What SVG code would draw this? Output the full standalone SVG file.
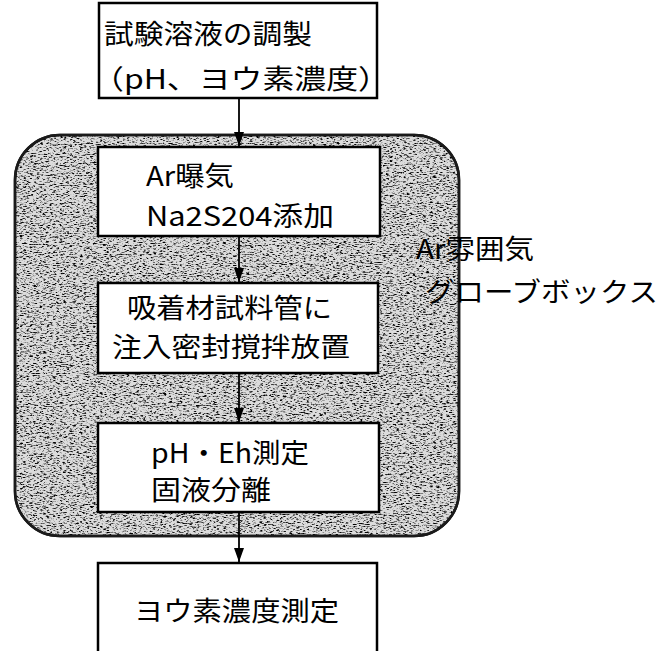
<svg xmlns="http://www.w3.org/2000/svg" width="660" height="651" viewBox="0 0 660 651">
  <style>
    .box { fill: #ffffff; stroke: #000000; stroke-width: 2.5; }
    .txt { font-family: "Noto Sans CJK JP", "Noto Sans", sans-serif; font-size: 27px; fill: #000000; }
    .conn { stroke: #000000; stroke-width: 1.8; fill: none; marker-end: url(#arrow); }
    .region { fill: #dcdcdc; stroke: #1a1a1a; stroke-width: 2.5; }
  </style>
  <defs>
    <marker id="arrow" viewBox="0 0 14 10" refX="14" refY="5" markerWidth="14" markerHeight="10" markerUnits="userSpaceOnUse" orient="auto">
      <path d="M0,0 L14,5 L0,10 z" fill="#000000"/>
    </marker>
    <filter id="grain" x="0" y="0" width="100%" height="100%" filterUnits="objectBoundingBox">
      <feTurbulence type="fractalNoise" baseFrequency="0.3 0.9" numOctaves="3" seed="7" result="t"/>
      <feColorMatrix in="t" type="matrix" values="0 0 0 0 0  0 0 0 0 0  0 0 0 0 0  4 0 0 0 -2.0" result="m"/>
      <feComponentTransfer in="m" result="d">
        <funcA type="discrete" tableValues="0 0.75"/>
      </feComponentTransfer>
      <feComposite in="d" in2="SourceGraphic" operator="in"/>
    </filter>
  </defs>

  <g id="glovebox">
    <rect class="region" x="15" y="135" width="444" height="401" rx="45" ry="45"/>
    <rect x="15" y="135" width="444" height="401" rx="45" ry="45" fill="#000" filter="url(#grain)"/>
    <rect x="15" y="135" width="444" height="401" rx="45" ry="45" fill="none" stroke="#1a1a1a" stroke-width="2.5"/>
  </g>

  <g id="connectors">
    <line class="conn" x1="239" y1="98" x2="239" y2="146"/>
    <line class="conn" x1="239" y1="236" x2="239" y2="282"/>
    <line class="conn" x1="239" y1="373" x2="239" y2="422"/>
    <line class="conn" x1="239" y1="512" x2="239" y2="562"/>
  </g>

  <g id="node-prep">
    <rect class="box" x="99" y="3" width="278" height="95"/>
    <text class="txt" x="104" y="44" textLength="208" lengthAdjust="spacingAndGlyphs">試験溶液の調製</text>
    <text class="txt" x="92" y="89" textLength="298" lengthAdjust="spacingAndGlyphs">（pH、ヨウ素濃度）</text>
  </g>

  <g id="node-aeration">
    <rect class="box" x="98" y="147" width="282" height="89"/>
    <text class="txt" x="146" y="186" textLength="88" lengthAdjust="spacingAndGlyphs">Ar曝気</text>
    <text class="txt" x="146" y="226" textLength="188" lengthAdjust="spacingAndGlyphs">Na2S204添加</text>
  </g>

  <g id="node-inject">
    <rect class="box" x="98" y="283" width="280" height="90"/>
    <text class="txt" x="127" y="318" textLength="205" lengthAdjust="spacingAndGlyphs">吸着材試料管に</text>
    <text class="txt" x="112" y="357" textLength="238" lengthAdjust="spacingAndGlyphs">注入密封撹拌放置</text>
  </g>

  <g id="node-measure">
    <rect class="box" x="98" y="423" width="281" height="89"/>
    <text class="txt" x="151" y="463" textLength="158" lengthAdjust="spacingAndGlyphs">pH・Eh測定</text>
    <text class="txt" x="151" y="500" textLength="120" lengthAdjust="spacingAndGlyphs">固液分離</text>
  </g>

  <g id="node-iodine">
    <rect class="box" x="98" y="563" width="279" height="100"/>
    <text class="txt" x="134" y="621" textLength="205" lengthAdjust="spacingAndGlyphs">ヨウ素濃度測定</text>
  </g>

  <g id="label-glovebox">
    <text class="txt" x="416" y="259" textLength="118" lengthAdjust="spacingAndGlyphs">Ar雰囲気</text>
    <text class="txt" x="425" y="302" textLength="233" lengthAdjust="spacingAndGlyphs">グローブボックス</text>
  </g>
</svg>
